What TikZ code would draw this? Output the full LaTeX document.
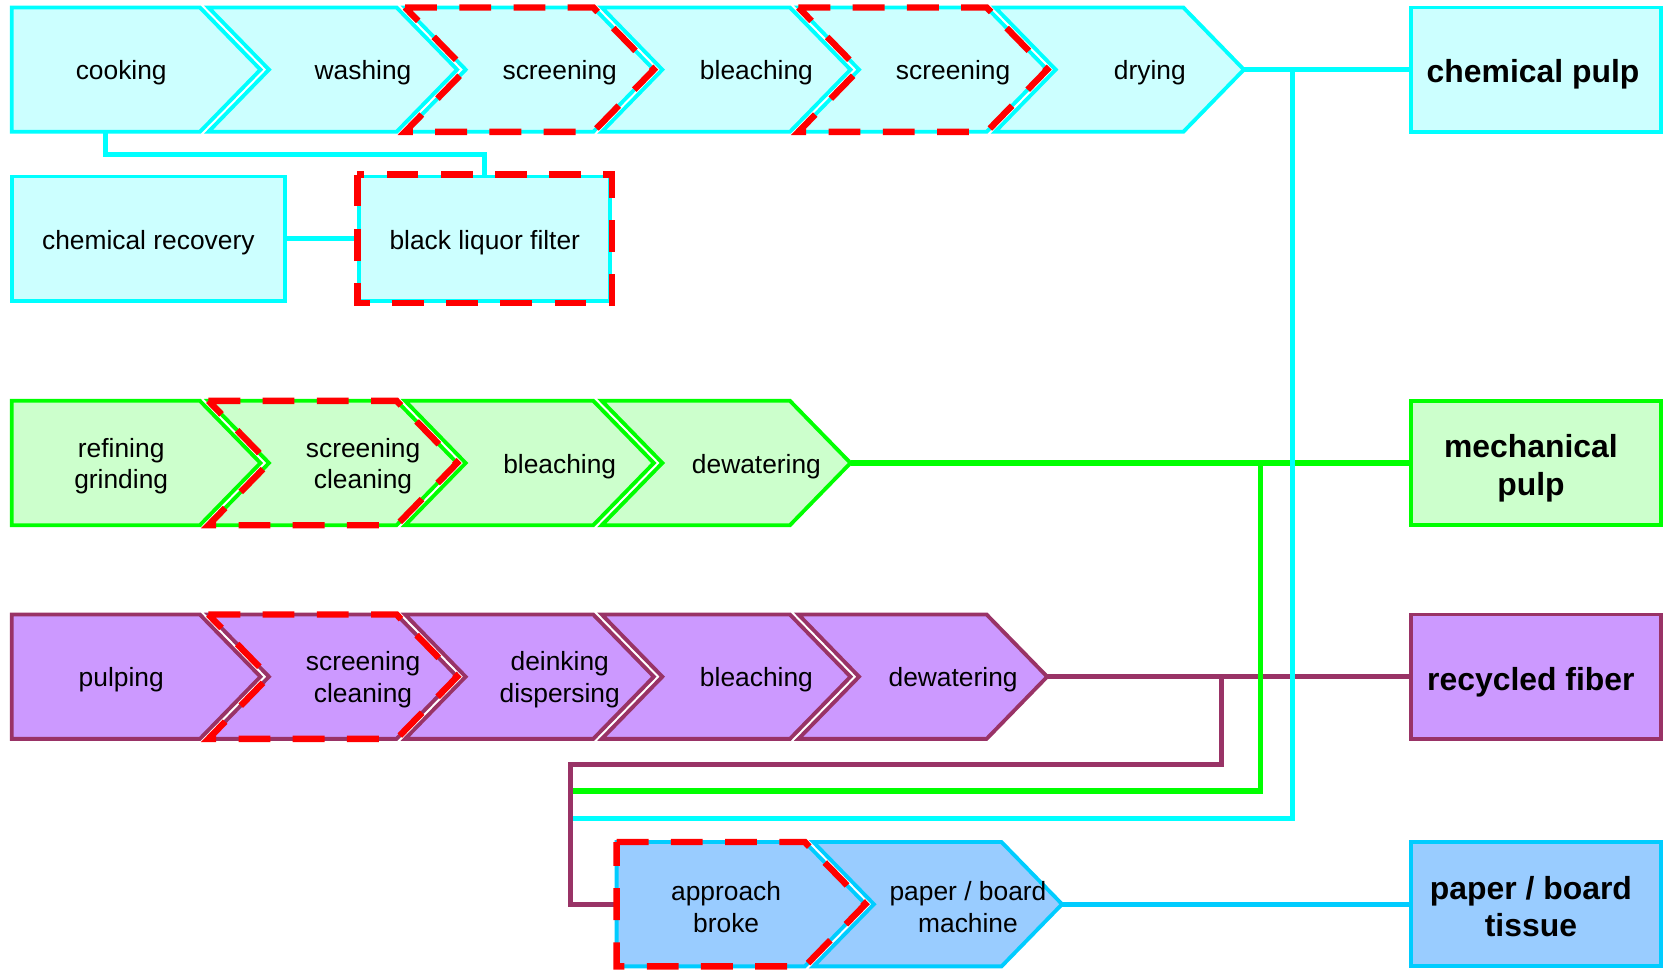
\documentclass[tikz,border=0pt]{standalone}
\usepackage{fontspec}
\setmainfont{Liberation Sans}
\usetikzlibrary{backgrounds}
\definecolor{cyL}{HTML}{CCFFFF}
\definecolor{cyD}{HTML}{00FFFF}
\definecolor{grL}{HTML}{CCFFCC}
\definecolor{grD}{HTML}{00FF00}
\definecolor{puL}{HTML}{CC99FF}
\definecolor{puD}{HTML}{993366}
\definecolor{blL}{HTML}{99CCFF}
\definecolor{blD}{HTML}{00CCFF}
\definecolor{rd}{HTML}{FF0000}
\tikzset{
  txt/.style={font=\fontsize{12.4}{15}\selectfont, align=center, inner sep=0pt},
  btxt/.style={font=\fontsize{15}{17.5}\selectfont\bfseries, align=center, inner sep=0pt},
  cystep/.style={fill=cyL, draw=cyD, line width=1.8pt},
  grstep/.style={fill=grL, draw=grD, line width=1.8pt},
  pustep/.style={fill=puL, draw=puD, line width=1.8pt},
  blstep/.style={fill=blL, draw=blD, line width=1.8pt},
  reddash/.style={draw=rd, line width=3pt, dash pattern=on 15pt off 10.5pt},
  outbox/.style={rectangle, minimum width=117.5pt, minimum height=58.5pt, inner sep=0pt},
  cyline/.style={draw=cyD, line width=2.4pt},
  grline/.style={draw=grD, line width=2.4pt},
  puline/.style={draw=puD, line width=2.4pt},
  blline/.style={draw=blD, line width=2.4pt},
}
% #1 name, #2 left x, #3 top y, #4 notch depth, #5 style, #6 text
\newcommand\mychev[6]{%
  \path[#5] (#2,#3) -- ({#2+177},#3) -- ({#2+234},{#3+58.5}) -- ({#2+177},{#3+117}) -- (#2,{#3+117}) -- ({#2+#4},{#3+58.5}) -- cycle;
  \coordinate (#1-tip) at ({#2+234},{#3+58.5});
  \coordinate (#1-w) at ({#2+#4},{#3+58.5});
  \coordinate (#1-b) at ({#2+88.5},{#3+117});
  \node[txt] (#1) at ({#2+103+0.7456*#4},{#3+61.5}) {#6};
}
\newcommand\mychevdash[3]{%
  \path[reddash] (#1,#2) -- ({#1+177},#2) -- ({#1+234},{#2+58.5}) -- ({#1+177},{#2+117}) -- (#1,{#2+117}) -- ({#1+#3},{#2+58.5}) -- cycle;
}
\begin{document}
\begin{tikzpicture}[x=0.5pt,y=-0.5pt]
\useasboundingbox (0,0) rectangle (1568,916);
% row 1: chemical pulp
\mychev{cook}{11}{7}{0}{cystep}{cooking}
\mychev{wash}{196}{7}{57}{cystep}{washing}
\mychev{scrA}{381}{7}{57}{cystep}{screening}
\mychev{bleA}{566}{7}{57}{cystep}{bleaching}
\mychev{scrB}{751}{7}{57}{cystep}{screening}
\mychev{dry}{936}{7}{57}{cystep}{drying}
\node[outbox, cystep, minimum width=128.5pt] (chemrec) at (139.5,224.5) {};
\node[txt] (chemrec-t) at (139.5,228) {chemical recovery};
\node[outbox, cystep, minimum width=118pt] (blf) at (456,224.5) {};
\node[txt] (blf-t) at (456,228) {black liquor filter};
% row 2: mechanical pulp
\mychev{refi}{11}{377}{0}{grstep}{refining\\grinding}
\mychev{scrM}{196}{377}{57}{grstep}{screening\\cleaning}
\mychev{bleM}{381}{377}{57}{grstep}{bleaching}
\mychev{dewM}{566}{377}{57}{grstep}{dewatering}
% row 3: recycled fiber
\mychev{pulp}{11}{578}{0}{pustep}{pulping}
\mychev{scrR}{196}{578}{57}{pustep}{screening\\cleaning}
\mychev{dein}{381}{578}{57}{pustep}{deinking\\dispersing}
\mychev{bleR}{566}{578}{57}{pustep}{bleaching}
\mychev{dewR}{751}{578}{57}{pustep}{dewatering}
% row 4: paper machine
\mychev{appr}{580}{792}{0}{blstep}{approach\\broke}
\mychev{pm}{765}{792}{57}{blstep}{paper / board\\machine}
% output boxes
\node[outbox, cystep] (chempulp) at (1444.5,65.5) {};
\node[btxt] (chempulp-t) at (1442,70) {chemical pulp};
\node[outbox, grstep] (mechpulp) at (1444.5,435.5) {};
\node[btxt] (mechpulp-t) at (1440,440.5) {mechanical\\pulp};
\node[outbox, pustep] (recfib) at (1444.5,636.5) {};
\node[btxt] (recfib-t) at (1440,641.5) {recycled fiber};
\node[outbox, blstep] (paper) at (1444.5,850.5) {};
\node[btxt] (paper-t) at (1440,852.5) {paper / board\\tissue};
% red dashed overlays
\mychevdash{381}{7}{57}
\mychevdash{751}{7}{57}
\mychevdash{196}{377}{57}
\mychevdash{196}{578}{57}
\mychevdash{580}{792}{0}
\draw[reddash] (blf.north west) rectangle (blf.south east);
% connectors
\coordinate (pjoin) at (1149,636.5);
\coordinate (pbend) at (537,719);
\coordinate (gjoin) at (1186,435.5);
\coordinate (gend) at (539,744);
\coordinate (cjoin) at (1216,65.5);
\coordinate (cend) at (539,770);
\begin{scope}[on background layer]
\draw[puline] (dewR-tip) -- (recfib.west);
\draw[puline] (pjoin) |- (pbend) |- (appr-w);
\draw[grline] (dewM-tip) -- (mechpulp.west);
\draw[grline] (gjoin) |- (gend);
\draw[cyline] (dry-tip) -- (chempulp.west);
\draw[cyline] (cjoin) |- (cend);
\draw[cyline] (cook-b) -- ++(0,21) -| (blf.north);
\draw[cyline] (chemrec.east) -- (blf.west);
\draw[blline] (pm-tip) -- (paper.west);
\end{scope}
\end{tikzpicture}
\end{document}
